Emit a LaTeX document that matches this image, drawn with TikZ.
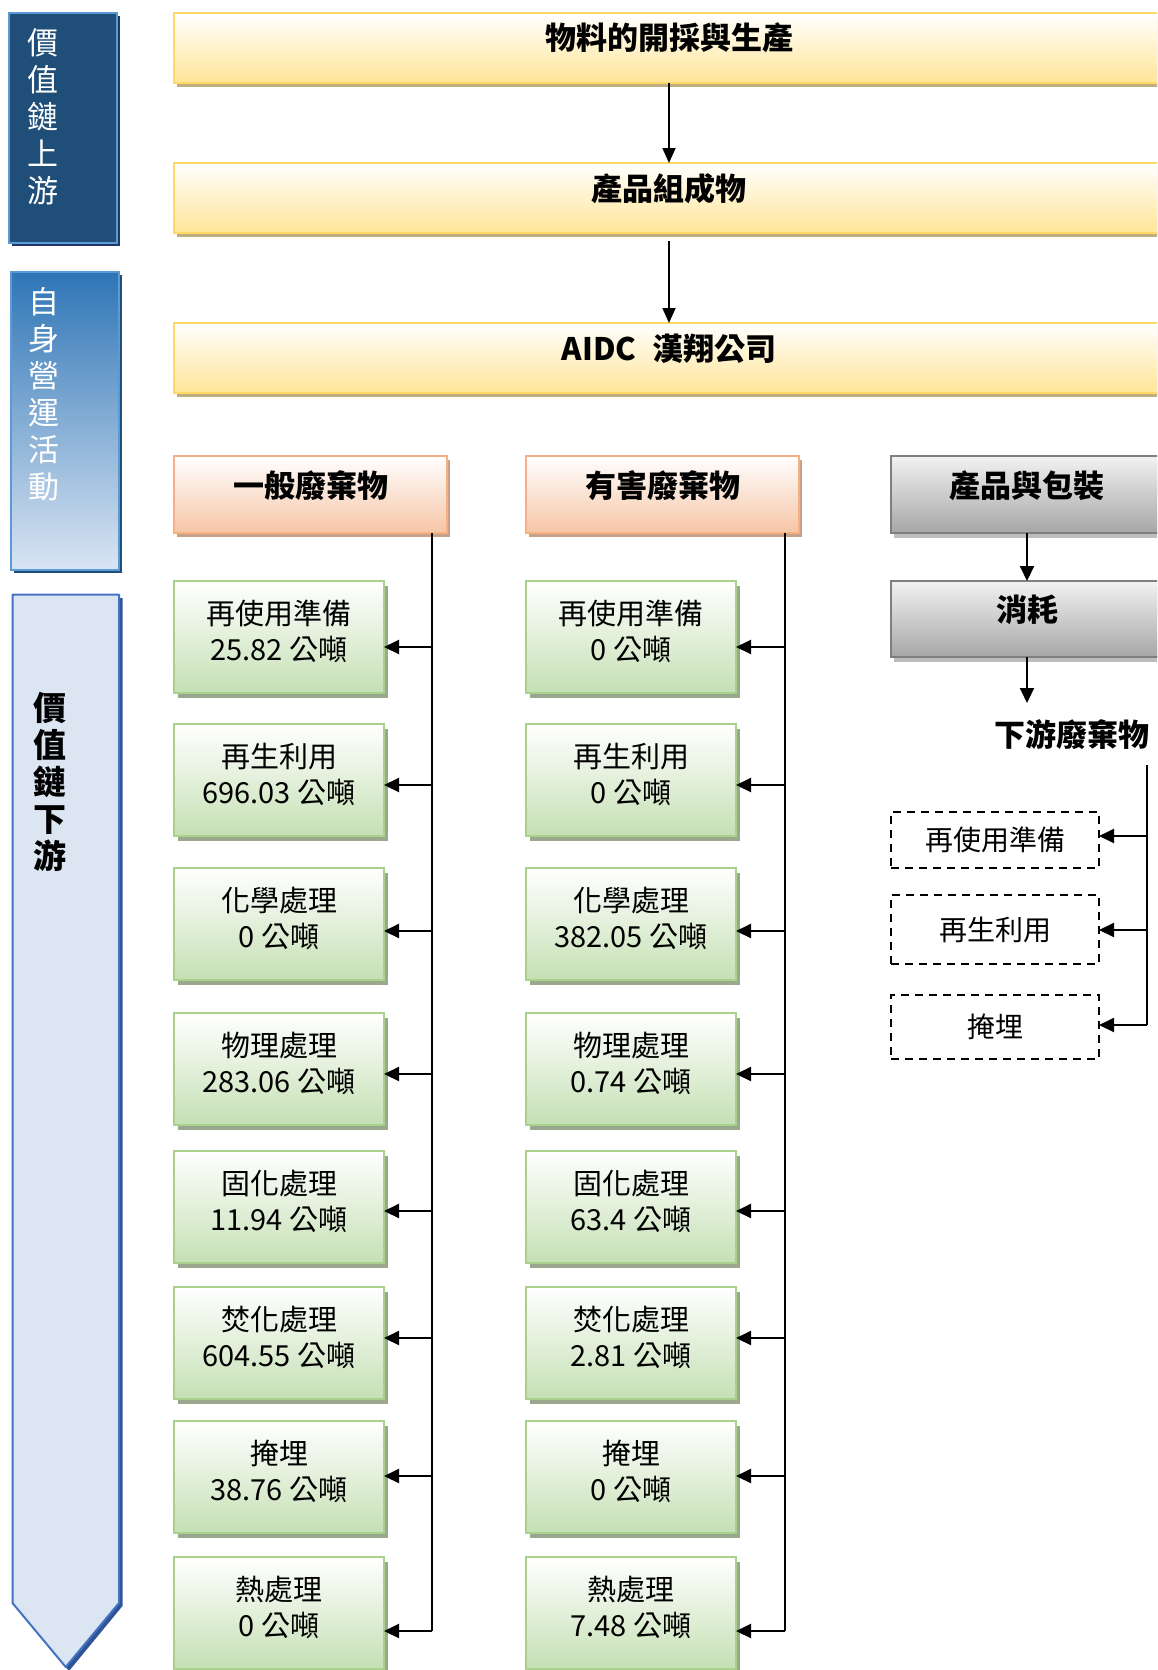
\documentclass[tikz,border=0pt]{standalone}
\usepackage{fontspec}
\setmainfont{Noto Sans CJK TC}
\usetikzlibrary{arrows.meta,shadows,calc}
\definecolor{darkFill}{HTML}{1F4E79}
\definecolor{lightBorder}{HTML}{5B9BD5}
\definecolor{darkShadow}{HTML}{1F3864}
\definecolor{midTop}{HTML}{2E75B6}
\definecolor{midBottom}{HTML}{DAE5F3}
\definecolor{pentFill}{HTML}{DCE6F2}
\definecolor{pentBorder}{HTML}{4472C4}
\definecolor{pentShadow}{HTML}{2F5597}
\definecolor{yBorder}{HTML}{FFD966}
\definecolor{yBottom}{HTML}{FFE597}
\definecolor{yShadow}{HTML}{BFAF80}
\definecolor{oBorder}{HTML}{F4B183}
\definecolor{oBottom}{HTML}{F6C5A6}
\definecolor{oShadow}{HTML}{C9A189}
\definecolor{gBorder}{HTML}{A9D18E}
\definecolor{gBottom}{HTML}{C5E0B4}
\definecolor{gShadow}{HTML}{9AA88D}
\definecolor{grBorder}{HTML}{7F7F7F}
\definecolor{grTop}{HTML}{F2F2F2}
\definecolor{grBottom}{HTML}{A6A6A6}
\definecolor{grShadow}{HTML}{BDBDBD}
\begin{document}
\begin{tikzpicture}[x=1pt,y=-1pt,
  basebox/.style={anchor=north west, line width=2pt, inner sep=0pt, outer sep=0pt},
  ybox/.style={basebox, draw=yBorder, top color=white, bottom color=yBottom,
    general shadow={fill=yShadow, shadow xshift=3pt, shadow yshift=-4pt},
    minimum width=990pt, minimum height=70pt},
  obox/.style={basebox, draw=oBorder, top color=white, bottom color=oBottom,
    general shadow={fill=oShadow, shadow xshift=3pt, shadow yshift=-4pt},
    minimum width=273pt, minimum height=77pt},
  grbox/.style={basebox, draw=grBorder, top color=grTop, bottom color=grBottom,
    general shadow={fill=grShadow, shadow xshift=3pt, shadow yshift=-5pt},
    minimum width=272pt, minimum height=76pt},
  gbox/.style={basebox, draw=gBorder, top color=white, bottom color=gBottom,
    general shadow={fill=gShadow, shadow xshift=4pt, shadow yshift=-5pt},
    minimum width=210pt, minimum height=112pt},
  dbox/.style={basebox, draw=black, dash pattern=on 8pt off 6pt, minimum width=208pt},
  htxt/.style={font=\fontsize{31}{36}\selectfont\bfseries, inner sep=0pt},
  gtxt/.style={font=\fontsize{29}{36}\selectfont, align=center, inner sep=0pt},
  dtxt/.style={font=\fontsize{28}{34}\selectfont, inner sep=0pt},
  vtxt/.style={font=\fontsize{31}{37}\selectfont, align=center, text=white, inner sep=0pt},
  ln/.style={line width=2pt, black},
  arr/.style={line width=2pt, black, -{Triangle[length=15pt,width=14pt]}},
  varr/.style={line width=1.8pt, black, -{Triangle[length=15pt,width=13pt]}}
]
\useasboundingbox (0,0) rectangle (1157,1670);
\clip (0,0) rectangle (1157,1670);

% left side bars
\node[basebox, draw=lightBorder, fill=darkFill, minimum width=108.5pt, minimum height=230pt,
  general shadow={fill=darkShadow, shadow xshift=3pt, shadow yshift=-3pt}] (up) at (8.5,13) {};
\node[vtxt] (uptxt) at (43,117) {價\\值\\鏈\\上\\游};

\node[basebox, draw=lightBorder, top color=midTop, bottom color=midBottom, minimum width=108.5pt, minimum height=298pt,
  general shadow={fill=darkFill, shadow xshift=3pt, shadow yshift=-3pt}] (own) at (10.5,272) {};
\node[vtxt] (owntxt) at (44,394) {自\\身\\營\\運\\活\\動};

\fill[pentShadow] (16,598) -- (122.5,598) -- (122.5,1606) -- (69,1671) -- (16,1606) -- cycle;
\draw[pentBorder, line width=2pt, fill=pentFill, line join=round] (12.5,594.5) -- (119,594.5) -- (119,1603) -- (65.75,1667) -- (12.5,1603) -- cycle;
\node[vtxt, text=black, font=\fontsize{33}{37}\selectfont\bfseries] (downtxt) at (50,782) {價\\值\\鏈\\下\\游};

% upstream yellow boxes
\node[ybox] (y1) at (174,13) {};
\node[htxt] at ([yshift=10pt]y1.center) {物料的開採與生產};
\node[ybox] (y2) at (174,163) {};
\node[htxt] at ([yshift=9pt]y2.center) {產品組成物};
\node[ybox] (y3) at (174,323) {};
\node[htxt] at ([yshift=9pt]y3.center) {AIDC\hspace{0.5em}漢翔公司};
\draw[varr] (y1.south) -- (y2.north);
\draw[varr] ([yshift=-8pt]y2.south) -- (y3.north);

% waste headers
\node[obox] (h1) at (174,456) {};
\node[htxt] at ([yshift=9pt]h1.center) {一般廢棄物};
\node[obox] (h2) at (526,456) {};
\node[htxt] at ([yshift=9pt]h2.center) {有害廢棄物};

% product branch
\node[grbox, minimum height=77pt] (p1) at (891,456) {};
\node[htxt] at ([yshift=9pt]p1.center) {產品與包裝};
\node[grbox] (p2) at (891,581) {};
\node[htxt] at ([yshift=9pt]p2.center) {消耗};
\draw[arr] (p1.south) -- (p2.north);
\coordinate (dwin) at (1027,703);
\draw[arr] (p2.south) -- (dwin);
\node[htxt] (dw) at (1072,735) {下游廢棄物};

\node[dbox, minimum height=56pt] (d1) at (891,812) {};
\node[dtxt] at (d1.center) {再使用準備};
\node[dbox, minimum height=69pt] (d2) at (891,895) {};
\node[dtxt] at (d2.center) {再生利用};
\node[dbox, minimum height=64pt] (d3) at (891,995) {};
\node[dtxt] at (d3.center) {掩埋};
\coordinate (sc0) at (1147,765);
\coordinate (sc) at (1147,1025);
\draw[ln] (sc0) -- (sc);
\coordinate (dy1) at (0,836);
\coordinate (dy2) at (0,930);
\draw[arr] (sc0 |- dy1) -- (d1.east |- dy1);
\draw[arr] (sc0 |- dy2) -- (d2.east |- dy2);
\draw[arr] (sc) -- (d3.east |- sc);

% spines
\coordinate (sa) at (431.5,1631);
\coordinate (sb) at (785,1631);
\draw[ln] (h1.south -| sa) -- (sa);
\draw[ln] (h2.south -| sb) -- (sb);

\foreach \r/\tp/\ay/\lab/\va/\vb in {
  1/581/647/再使用準備/25.82/0,
  2/724/785/再生利用/696.03/0,
  3/868/931/化學處理/0/382.05,
  4/1013/1074/物理處理/283.06/0.74,
  5/1151/1211/固化處理/11.94/63.4,
  6/1287/1338/焚化處理/604.55/2.81,
  7/1421/1476/掩埋/38.76/0,
  8/1557/1631/熱處理/0/7.48}{
  \node[gbox] (a\r) at (174,\tp) {};
  \node[gtxt] at ([yshift=6pt]a\r.center) {\lab\\\va\ 公噸};
  \node[gbox] (b\r) at (526,\tp) {};
  \node[gtxt] at ([yshift=6pt]b\r.center) {\lab\\\vb\ 公噸};
  \coordinate (ay\r) at (0,\ay);
  \draw[arr] (sa |- ay\r) -- (a\r.east |- ay\r);
  \draw[arr] (sb |- ay\r) -- (b\r.east |- ay\r);
}
\end{tikzpicture}
\end{document}
